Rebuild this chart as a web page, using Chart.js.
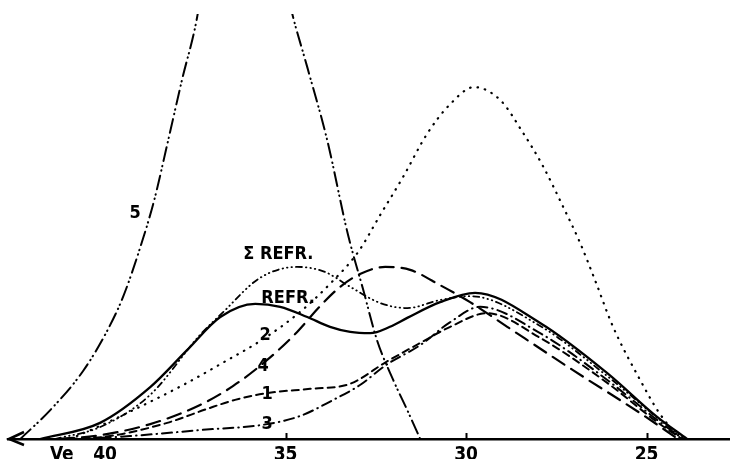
<!DOCTYPE html>
<html>
<head>
<meta charset="utf-8">
<script src="https://cdn.jsdelivr.net/npm/chart.js@4.4.1/dist/chart.umd.min.js"></script>
<style>
  html, body { margin: 0; padding: 0; background: #fff; }
  canvas { display: block; }
</style>
</head>
<body>
<canvas id="elution" width="730" height="459"></canvas>
<script>
// elution volume (Ve) and relative height for each curve
const refrVe = [41.8, 40.14, 38.75, 37.73, 36.81, 35.84, 35.15, 34.4, 33.77, 33.21, 32.66, 32.11, 31.63, 30.72, 29.75, 27.95, 26.09, 24.71, 23.88];
const refrH  = [0, 3.8, 12.2, 20.9, 28.7, 31.8, 31.1, 28.7, 26.4, 25.2, 24.9, 26.4, 28.5, 32.2, 34.4, 27.3, 15.5, 5.2, 0];

const sumVe = [41.39, 40.14, 38.75, 37.37, 36.76, 35.71, 34.68, 33.91, 33.21, 32.38, 31.63, 30.72, 29.89, 27.95, 26.09, 24.63, 23.93];
const sumH  = [0, 2.8, 10.4, 24.5, 29.6, 37.9, 40.5, 39.3, 35.8, 32.0, 30.8, 32.7, 33.6, 26.6, 14.8, 4.5, 0];

const c1Ve = [40.97, 39.86, 38.28, 37.17, 36.4, 35.51, 34.32, 33.24, 32.22, 31.27, 30.44, 29.42, 27.95, 26.09, 24.71, 24.02];
const c1H  = [0, 0.7, 3.8, 7.1, 9.2, 10.8, 11.8, 12.9, 18.1, 22.6, 26.4, 29.6, 23.8, 13.2, 4.0, 0];

const c2Ve = [40.97, 40.14, 39.22, 37.84, 36.81, 35.57, 34.6, 33.77, 32.99, 32.38, 31.75, 31.08, 30.44, 29.78, 29.06, 28.42, 27.89, 27.31, 26.84, 26.43, 25.93, 25.18, 24.63, 24.07, 23.88];
const c2H  = [0, 3.1, 6.8, 12.7, 17.6, 23.8, 29.9, 36.5, 44.0, 52.7, 61.6, 71.8, 78.8, 82.8, 79.8, 72.0, 64.5, 54.6, 46.1, 37.4, 26.4, 13.9, 5.9, 0.5, 0];

const c3Ve = [40.69, 39.31, 37.37, 35.51, 34.6, 33.68, 32.94, 32.22, 31.27, 30.44, 29.61, 27.95, 26.09, 24.71, 23.99];
const c3H  = [0, 0.7, 2.1, 3.5, 5.4, 9.2, 12.7, 17.4, 22.1, 27.5, 31.1, 24.9, 13.9, 4.5, 0];

const c4Ve = [41.25, 40.14, 38.75, 37.37, 36.45, 35.51, 34.68, 34.04, 33.49, 32.94, 32.24, 31.55, 30.72, 29.89, 28.86, 27.04, 25.18, 24.13];
const c4H  = [0, 0.9, 3.5, 8.0, 12.5, 18.6, 25.2, 31.3, 35.8, 38.8, 40.5, 39.8, 36.2, 32.2, 26.4, 16.2, 6.1, 0];

const c5Ve = [42.35, 41.52, 40.61, 39.94, 39.5, 39.03, 38.64, 38.25, 37.87, 37.45, 37.0, 36.1, 35.2, 34.82, 34.4, 33.85, 33.27, 32.85, 32.47, 32.02, 31.63, 31.27];
const c5H  = [0, 6.8, 16.0, 25.5, 33.5, 45.0, 56.2, 70.4, 84.5, 99.3, 125, 150, 115, 100.2, 87.5, 70.4, 48.0, 35.1, 23.3, 13.9, 6.8, 0];

// axis ticks and curve labels
const tickVe = [41.2, 40, 35, 30, 25];
const tickText = ['Ve', '40', '35', '30', '25'];
const markVe = [35, 30, 25];

const labelText = ['5', '\u03A3 REFR.', 'REFR.', '2', '4', '1', '3'];
const labelVe   = [39.17, 35.2, 34.93, 35.57, 35.62, 35.51, 35.51];
const labelH    = [53.2, 43.5, 33.2, 24.5, 17.2, 10.6, 3.5];

function pts(xs, ys) {
    return xs.map((x, i) => ({x: x, y: ys[i]}));
}

function curve(label, xs, ys, dash, width) {
    return {
        label: label,
        data: pts(xs, ys),
        borderColor: '#000',
        borderWidth: width || 2,
        borderDash: dash,
        borderCapStyle: 'round',
        pointRadius: 0,
        fill: false,
        cubicInterpolationMode: 'monotone'
    };
}

const FONT = "'DejaVu Sans Condensed', 'DejaVu Sans', sans-serif";

const decorations = {
    id: 'decorations',
    afterDatasetsDraw(chart) {
        const ctx = chart.ctx;
        const xs = chart.scales.x;
        const ys = chart.scales.y;
        const base = ys.getPixelForValue(0);
        ctx.save();
        ctx.strokeStyle = '#000';
        ctx.lineWidth = 2;
        // small tick marks above the axis
        markVe.forEach(v => {
            const px = Math.round(xs.getPixelForValue(v)) + 0.5;
            ctx.beginPath();
            ctx.moveTo(px, base);
            ctx.lineTo(px, base - 6);
            ctx.stroke();
        });
        // arrow head at the left end
        const left = chart.chartArea.left;
        ctx.lineWidth = 2.5;
        ctx.beginPath();
        ctx.moveTo(left + 16, base - 7);
        ctx.lineTo(left + 1, base);
        ctx.lineTo(left + 16, base + 6);
        ctx.stroke();
        // curve labels
        ctx.fillStyle = '#000';
        ctx.font = 'bold 18px ' + FONT;
        ctx.textAlign = 'center';
        ctx.textBaseline = 'middle';
        labelText.forEach((t, i) => {
            ctx.fillText(t, xs.getPixelForValue(labelVe[i]), ys.getPixelForValue(labelH[i]));
        });
        ctx.restore();
    }
};

const ctx = document.getElementById('elution').getContext('2d');

const elution = new Chart(ctx, {
    type: 'line',
    data: {
        datasets: [
            curve('REFR.', refrVe, refrH, [], 2.3),
            curve('\u03A3 REFR.', sumVe, sumH, [6, 4, 0.5, 4, 0.5, 4, 0.5, 4], 1.8),
            curve('1', c1Ve, c1H, [7, 5], 2),
            curve('2', c2Ve, c2H, [0.5, 7], 2.2),
            curve('3', c3Ve, c3H, [10, 5, 0.5, 5], 2),
            curve('4', c4Ve, c4H, [14, 8], 2.2),
            curve('5', c5Ve, c5H, [14, 5, 0.5, 4, 0.5, 5], 2)
        ]
    },
    options: {
        responsive: false,
        animation: false,
        devicePixelRatio: 1,
        layout: {padding: {left: 8, right: 0, top: 14, bottom: 0}},
        plugins: {
            legend: {display: false},
            tooltip: {enabled: false}
        },
        scales: {
            x: {
                type: 'linear',
                reverse: true,
                min: 22.69,
                max: 42.69,
                afterBuildTicks: s => { s.ticks = tickVe.map(v => ({value: v})); },
                afterFit: s => { s.height = 20; },
                grid: {display: false, drawTicks: false},
                border: {display: true, color: '#000', width: 2.5},
                ticks: {
                    autoSkip: false,
                    maxRotation: 0,
                    padding: 5,
                    color: '#000',
                    font: {family: FONT, size: 19, weight: 'bold'},
                    callback: (v, i) => tickText[i]
                }
            },
            y: {
                type: 'linear',
                display: false,
                min: 0,
                max: 100
            }
        }
    },
    plugins: [decorations]
});
</script>
</body>
</html>
